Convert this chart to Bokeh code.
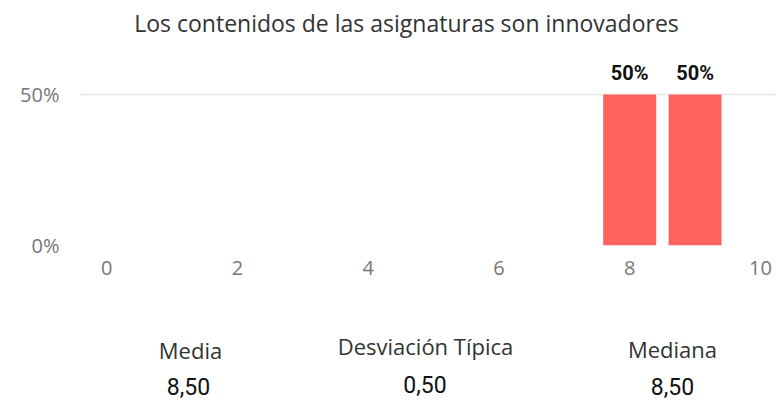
from bokeh.plotting import figure
from bokeh.models import Range1d, FixedTicker, NumeralTickFormatter, ColumnDataSource
from bokeh.layouts import column
from bokeh.core.properties import value
from bokeh.embed import file_html
from bokeh.resources import INLINE

# ---- data ----
title_text = "Los contenidos de las asignaturas son innovadores"
scores = [8, 9]
shares = [0.5, 0.5]
share_labels = ["50%", "50%"]
x_ticks = [0, 2, 4, 6, 8, 10]
y_ticks = [0, 0.5]
stat_names = ["Media", "Desviación Típica", "Mediana"]
stat_values = ["8,50", "0,50", "8,50"]

BAR = "#FD625E"
W = 776
FL, FR = 80, 775  # frame left / right in page pixels (frames are aligned in the column)

# ---- title strip ----
pt = figure(width=W, height=48, x_range=Range1d(FL, FR), y_range=Range1d(48, 0),
            output_backend="svg", toolbar_location=None,
            min_border_left=FL, min_border_right=W - FR, min_border_top=0, min_border_bottom=0)
pt.axis.visible = False
pt.grid.visible = False
pt.outline_line_color = None
pt.text(x=[406], y=[22], text=[title_text], text_align="center", text_baseline="middle",
        text_font=value("Open Sans"), text_font_size="23px", text_color="#333333")

# ---- chart ----
p = figure(width=W, height=260, x_range=Range1d(-0.4, 10.23), y_range=Range1d(0, 0.6126),
           output_backend="svg", toolbar_location=None,
           min_border_left=FL, min_border_right=W - FR, min_border_top=12, min_border_bottom=63)
p.outline_line_color = None
p.xgrid.visible = False
p.ygrid.grid_line_color = "#E6E6E6"
p.ygrid.grid_line_width = 1.5
p.xaxis.ticker = FixedTicker(ticks=x_ticks)
p.yaxis.ticker = FixedTicker(ticks=y_ticks)
p.yaxis.formatter = NumeralTickFormatter(format="0%")
for ax in (p.xaxis, p.yaxis):
    ax.axis_line_color = None
    ax.major_tick_line_color = None
    ax.minor_tick_line_color = None
    ax.major_tick_out = 0
    ax.major_label_text_font = "Open Sans"
    ax.major_label_text_font_size = "20px"
    ax.major_label_text_color = "#777777"
p.xaxis.major_label_standoff = 15
p.yaxis.major_label_standoff = 21

src = ColumnDataSource(dict(x=scores, top=shares, lab=share_labels))
p.vbar(x="x", top="top", width=0.81, source=src, color=BAR, line_color=None)
p.text(x="x", y="top", text="lab", source=src, text_align="center", text_baseline="alphabetic",
       y_offset=-22, text_font=value("Roboto"), text_font_style="bold",
       text_font_size="20px", text_color="#111111")

# ---- stats strip ----
ps = figure(width=W, height=93, x_range=Range1d(FL, FR), y_range=Range1d(93, 0),
            output_backend="svg", toolbar_location=None,
            min_border_left=FL, min_border_right=W - FR, min_border_top=0, min_border_bottom=0)
ps.axis.visible = False
ps.grid.visible = False
ps.outline_line_color = None
ps.text(x=[190, 425, 672], y=[41, 37, 40], text=stat_names, text_align="center",
        text_baseline="middle", text_font=value("Open Sans"), text_font_size="22px",
        text_color="#333333")
ps.text(x=[188, 424.5, 672], y=[78, 76, 78], text=stat_values, text_align="center",
        text_baseline="middle", text_font=value("Roboto"), text_font_size="23px",
        text_color="#111111")

layout = column(pt, p, ps, spacing=0)
open("out.html", "w").write(file_html(layout, INLINE))
